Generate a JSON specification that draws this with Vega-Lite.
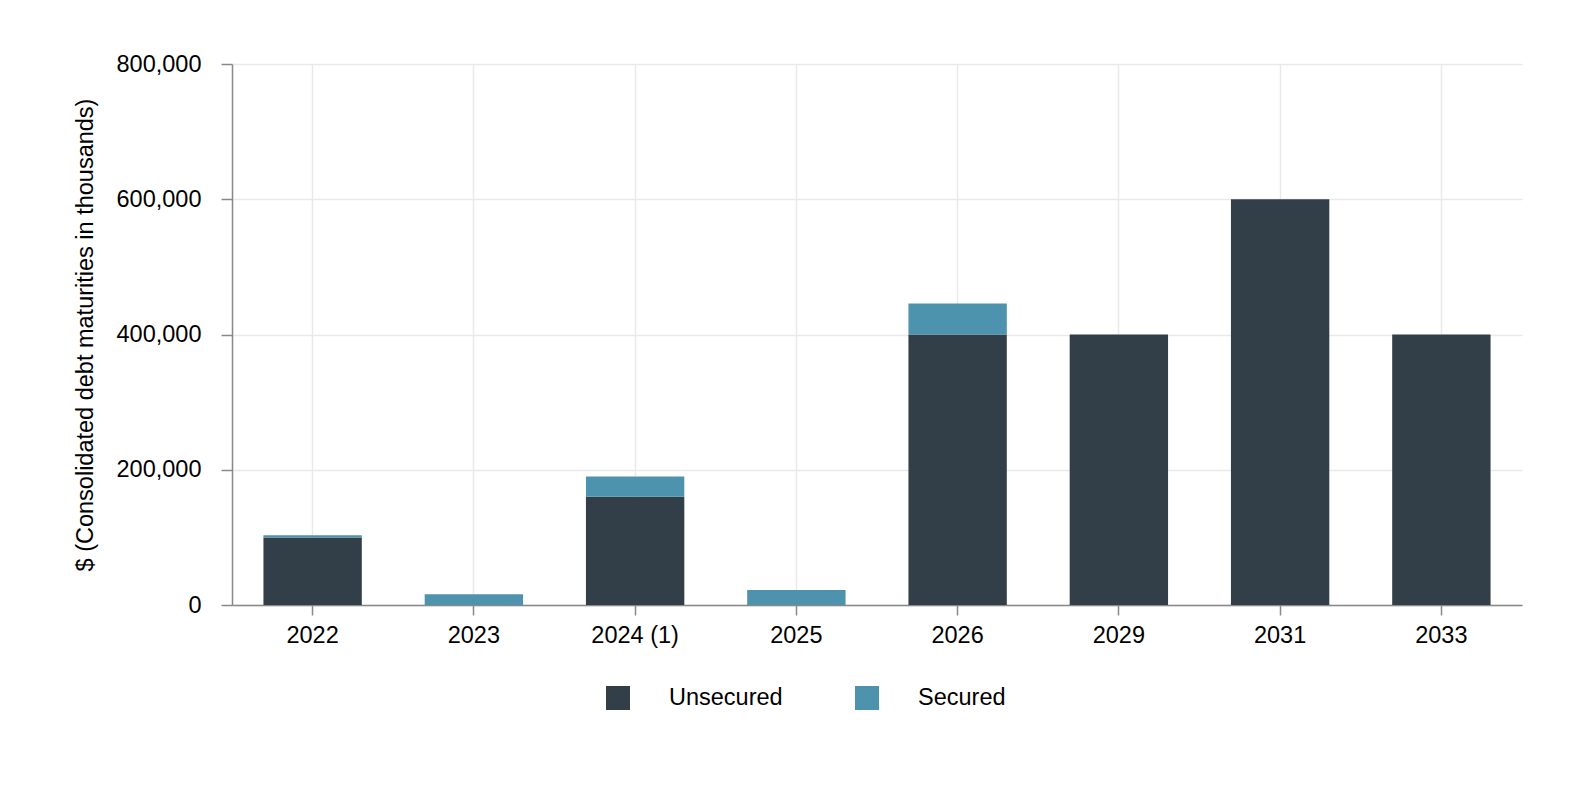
{
  "$schema": "https://vega.github.io/schema/vega-lite/v6.json",
  "width": 1290,
  "height": 541,
  "autosize": {"type": "none"},
  "padding": {"left": 232, "top": 64, "right": 64, "bottom": 181},
  "background": "white",
  "config": {
    "font": "Liberation Sans",
    "view": {"stroke": null}
  },
  "data": {
    "values": [
      {"year": "2022", "type": "Unsecured", "amount": 100000, "ord": 1},
      {"year": "2022", "type": "Secured", "amount": 3000, "ord": 2},
      {"year": "2023", "type": "Secured", "amount": 16000, "ord": 2},
      {"year": "2024 (1)", "type": "Unsecured", "amount": 160000, "ord": 1},
      {"year": "2024 (1)", "type": "Secured", "amount": 30000, "ord": 2},
      {"year": "2025", "type": "Secured", "amount": 22000, "ord": 2},
      {"year": "2026", "type": "Unsecured", "amount": 400000, "ord": 1},
      {"year": "2026", "type": "Secured", "amount": 46000, "ord": 2},
      {"year": "2029", "type": "Unsecured", "amount": 400000, "ord": 1},
      {"year": "2031", "type": "Unsecured", "amount": 600000, "ord": 1},
      {"year": "2033", "type": "Unsecured", "amount": 400000, "ord": 1}
    ]
  },
  "mark": {"type": "bar"},
  "encoding": {
    "x": {
      "field": "year",
      "type": "nominal",
      "sort": null,
      "scale": {"paddingInner": 0.39, "paddingOuter": 0.195},
      "axis": {
        "title": null,
        "labelAngle": 0,
        "labelFontSize": 23.5,
        "labelColor": "#000",
        "labelPadding": 8,
        "bandPosition": 0.5,
        "grid": true,
        "gridColor": "#e9e9e9",
        "gridWidth": 1.5,
        "domainColor": "#888",
        "domainWidth": 1.5,
        "tickColor": "#888",
        "tickSize": 10,
        "tickWidth": 1.5
      }
    },
    "y": {
      "field": "amount",
      "type": "quantitative",
      "aggregate": "sum",
      "stack": "zero",
      "scale": {"domain": [0, 800000]},
      "axis": {
        "title": "$ (Consolidated debt maturities in thousands)",
        "titleFontSize": 23.5,
        "titleFontWeight": "normal",
        "titleColor": "#000",
        "titlePadding": 19,
        "values": [0, 200000, 400000, 600000, 800000],
        "format": ",.0f",
        "labelFontSize": 23.5,
        "labelColor": "#000",
        "labelPadding": 20,
        "gridColor": "#e9e9e9",
        "gridWidth": 1.5,
        "domainColor": "#888",
        "domainWidth": 1.5,
        "tickColor": "#888",
        "tickSize": 11,
        "tickWidth": 1.5
      }
    },
    "color": {
      "field": "type",
      "type": "nominal",
      "scale": {"domain": ["Unsecured", "Secured"], "range": ["#323F48", "#4D93AD"]},
      "legend": {
        "title": null,
        "orient": "none",
        "direction": "horizontal",
        "legendX": 374,
        "legendY": 622,
        "symbolType": "square",
        "symbolSize": 576,
        "symbolStrokeWidth": 0,
        "symbolOpacity": 1,
        "labelFontSize": 23.5,
        "labelColor": "#000",
        "labelOffset": 39,
        "columnPadding": 72
      }
    },
    "order": {"field": "ord", "type": "quantitative"}
  }
}
